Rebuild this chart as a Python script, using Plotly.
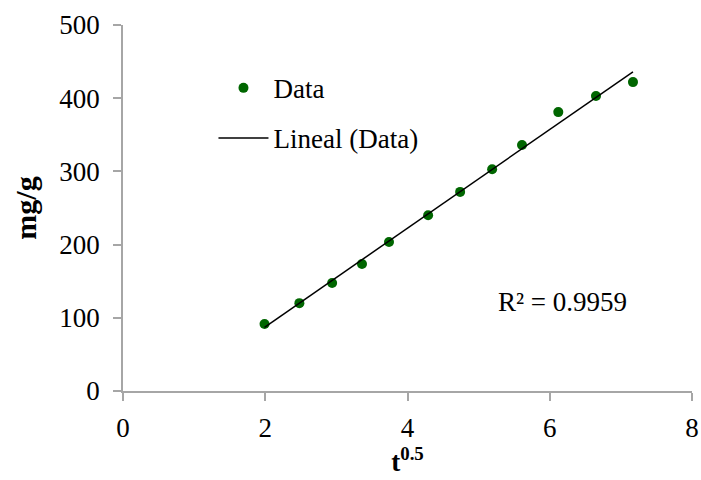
import numpy as np
import plotly.graph_objects as go

t_sqrt = [1.99, 2.48, 2.94, 3.36, 3.74, 4.29, 4.74, 5.19, 5.61, 6.12, 6.65, 7.17]
q_mg_g = [91.5, 120, 147.5, 173.5, 203.5, 240, 272, 303, 336, 381, 403, 422]
r2_label = "R² = 0.9959"

slope, intercept = np.polyfit(t_sqrt, q_mg_g, 1)
x_fit = [min(t_sqrt), max(t_sqrt)]
y_fit = [slope * v + intercept for v in x_fit]

FONT = "Liberation Serif"
AX = "#a6a6a6"
FS = 27

fig = go.Figure()
fig.add_trace(go.Scatter(x=t_sqrt, y=q_mg_g, mode="markers", name="Data",
                         legendgroup="a",
                         marker=dict(color="#006600", size=10)))
fig.add_trace(go.Scatter(x=x_fit, y=y_fit, mode="lines", name="Lineal (Data)",
                         legendgroup="b",
                         line=dict(color="black", width=1.5)))

fig.add_annotation(x=6.18, y=122, text=r2_label, showarrow=False,
                   font=dict(family=FONT, size=FS, color="#000"))

fig.update_layout(
    width=701, height=480,
    margin=dict(l=123, r=9, t=25, b=89),
    paper_bgcolor="white", plot_bgcolor="white",
    font=dict(family=FONT, size=FS, color="#000"),
    showlegend=True,
    legend=dict(x=0.159, y=0.894, xanchor="left", yanchor="top",
                bgcolor="rgba(0,0,0,0)", tracegroupgap=12, itemwidth=50,
                font=dict(family=FONT, size=FS)),
    xaxis=dict(range=[0, 8], dtick=2, showgrid=False, zeroline=False,
               automargin=False,
               showline=True, linecolor=AX, linewidth=1.5,
               ticks="outside", tickcolor=AX, ticklen=8, tickwidth=1.5,
               ticklabelstandoff=4,
               title=dict(text="<b>t<sup>0.5</sup></b>", standoff=4,
                          font=dict(family=FONT, size=27))),
    yaxis=dict(range=[0, 500], dtick=100, showgrid=False, zeroline=False,
               automargin=False,
               showline=True, linecolor=AX, linewidth=1.5,
               ticks="outside", tickcolor=AX, ticklen=8, tickwidth=1.5,
               ticklabelstandoff=8,
               title=dict(text="<b>mg/g</b>", standoff=14,
                          font=dict(family=FONT, size=30))),
)

fig.write_html("out.html")
